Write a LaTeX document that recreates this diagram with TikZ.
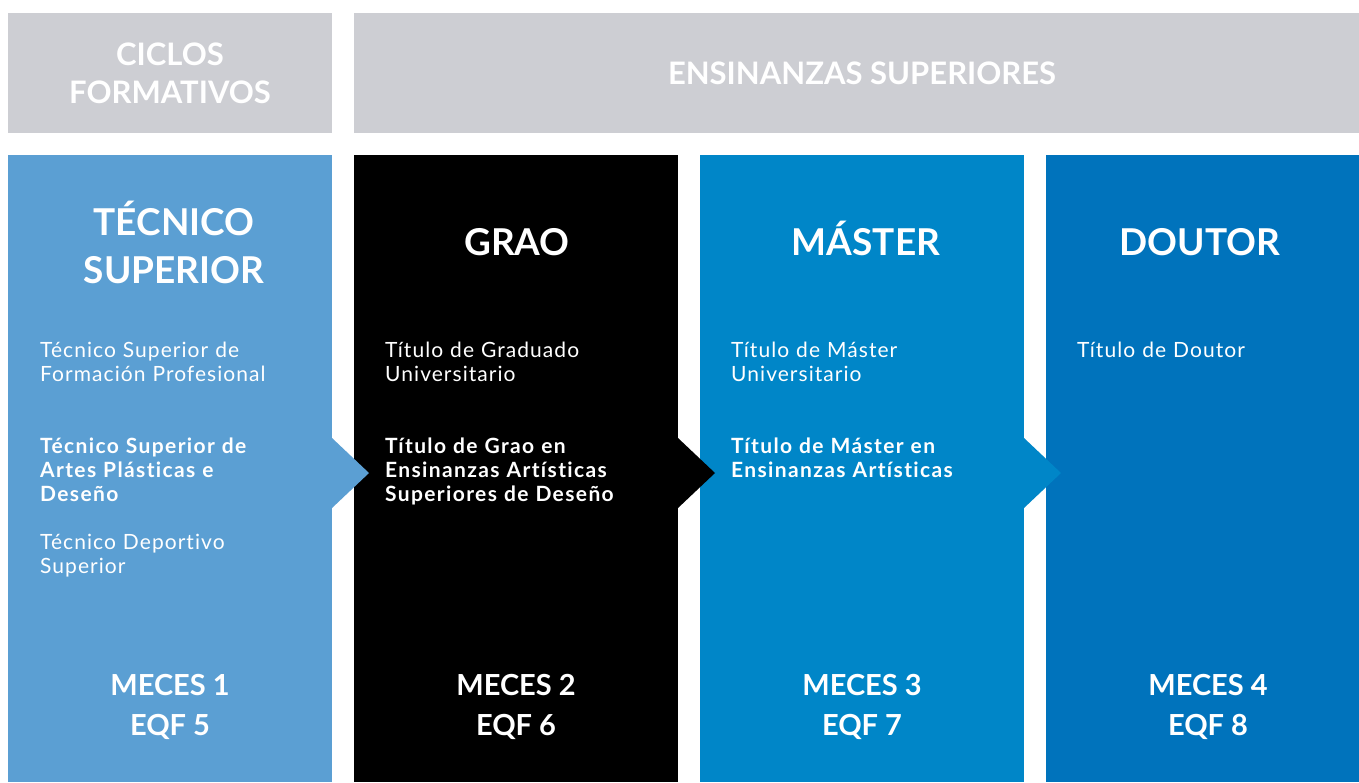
\documentclass[tikz,border=0pt]{standalone}
\usepackage{fontspec}
\setmainfont{Lato}
\newfontfamily\bodyreg[LetterSpace=5,Ligatures=NoCommon]{Lato}
\newfontfamily\bodybold[LetterSpace=6.5,Ligatures=NoCommon]{Lato Bold}
\definecolor{hdrgrey}{HTML}{CDCED3}
\definecolor{colA}{HTML}{5B9FD3}
\definecolor{colB}{HTML}{000000}
\definecolor{colC}{HTML}{0086C8}
\definecolor{colD}{HTML}{0073BC}
\tikzset{
  box/.style={inner sep=0pt, outer sep=0pt, anchor=north west, draw=none},
  hdrtext/.style={text=white, font=\bfseries\fontsize{31}{38}\selectfont, align=center, inner sep=0pt},
  titletext/.style={text=white, font=\bfseries\fontsize{37}{48}\selectfont, align=center, inner sep=0pt, anchor=base},
  bodytext/.style={text=white, font=\bodyreg\fontsize{21}{24}\selectfont, text width=300pt, align=left, inner sep=0pt, anchor=base west},
  boldtext/.style={bodytext, font=\bodybold\fontsize{21}{24}\selectfont},
  levtext/.style={text=white, font=\bfseries\fontsize{29}{40}\selectfont, align=center, inner sep=0pt, anchor=base},
  arrowtip/.style={draw=none}
}
\begin{document}
\begin{tikzpicture}[x=1pt,y=-1pt]
\useasboundingbox (0,0) rectangle (1359,782);
\fill[white] (0,0) rectangle (1359,782);
% header boxes
\node[box, fill=hdrgrey, minimum width=324pt, minimum height=120pt] (h1) at (8,13) {};
\node[box, fill=hdrgrey, minimum width=1005pt, minimum height=120pt] (h2) at (354,13) {};
% columns
\node[box, fill=colA, minimum width=324pt, minimum height=627pt] (c1) at (8,155) {};
\node[box, fill=colB, minimum width=324pt, minimum height=627pt] (c2) at (354,155) {};
\node[box, fill=colC, minimum width=324pt, minimum height=627pt] (c3) at (700,155) {};
\node[box, fill=colD, minimum width=313pt, minimum height=627pt] (c4) at (1046,155) {};
% arrows
\fill[colA, arrowtip] (332,438) -- (369,473) -- (332,508) -- cycle;
\fill[colB, arrowtip] (678,438) -- (715,473) -- (678,508) -- cycle;
\fill[colC, arrowtip] (1024,438) -- (1061,473) -- (1024,508) -- cycle;
% header texts (base = last line)
\node[hdrtext, anchor=base] (h1t) at (170,103) {CICLOS\\FORMATIVOS};
\node[hdrtext, anchor=base] (h2t) at (862,84) {ENSINANZAS SUPERIORES};
% titles
\node[titletext] (t1) at (174,283) {TÉCNICO\\SUPERIOR};
\node[titletext] (t2) at (517,255) {GRAO};
\node[titletext] (t3) at (866,255) {MÁSTER};
\node[titletext] (t4) at (1200,255) {DOUTOR};
% column 1 texts
\node[bodytext] (a1) at (40,357) {Técnico Superior de\\Formación Profesional};
\node[boldtext] (a2) at (40,453) {Técnico Superior de\\Artes Plásticas e\\Deseño};
\node[bodytext] (a3) at (40,549) {Técnico Deportivo\\Superior};
% column 2 texts
\node[bodytext] (b1) at (385,357) {Título de Graduado\\Universitario};
\node[boldtext] (b2) at (385,453) {Título de Grao en\\Ensinanzas Artísticas\\Superiores de Deseño};
% column 3 texts
\node[bodytext] (d1) at (731,357) {Título de Máster\\Universitario};
\node[boldtext] (d2) at (731,453) {Título de Máster en\\Ensinanzas Artísticas};
% column 4 texts
\node[bodytext] (e1) at (1077,357) {Título de Doutor};
% levels (base = last line)
\node[levtext] (l1) at (170,735) {MECES 1\\EQF 5};
\node[levtext] (l2) at (516,735) {MECES 2\\EQF 6};
\node[levtext] (l3) at (862,735) {MECES 3\\EQF 7};
\node[levtext] (l4) at (1208,735) {MECES 4\\EQF 8};
\end{tikzpicture}
\end{document}
